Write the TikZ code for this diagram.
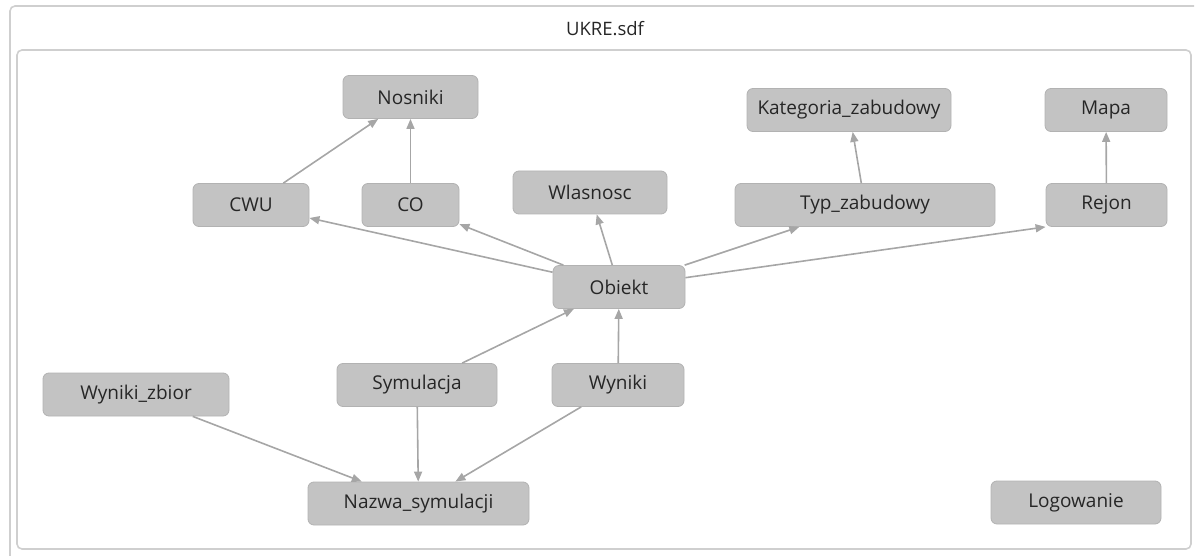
\documentclass[tikz,border=0pt]{standalone}
\usepackage{fontspec}
\setmainfont{Open Sans}
\usetikzlibrary{arrows.meta}
\definecolor{boxfill}{HTML}{C3C3C3}
\definecolor{boxline}{HTML}{B2B2B2}
\definecolor{linkgray}{HTML}{A6A6A6}
\definecolor{framegray}{HTML}{CFCFCF}
\definecolor{textgray}{HTML}{262626}
\tikzset{>={Triangle[length=10pt,width=8pt]},
         entity/.style={draw=boxline, fill=boxfill, line width=0.8pt,
           rounded corners=6pt, minimum height=43pt, inner sep=0pt,
           text=textgray, font=\fontsize{19}{22}\selectfont},
         link/.style={->, draw=linkgray, line width=1.6pt},
         frame/.style={draw=framegray, line width=1.6pt, rounded corners=5pt}}

\begin{document}
\begin{tikzpicture}[x=1pt,y=-1pt]
  \useasboundingbox (0,0) rectangle (1195,556);
  % frames
  \draw[frame] (10,570) -- (10,6) -- (1194,6);
  \draw[frame] (17,50) rectangle (1191,549);
  \node[text=textgray, font=\fontsize{18.5}{22}\selectfont] (title) at (605,29) {UKRE.sdf};

  % tables
  \node[entity, minimum width=135pt] (nosniki)   at (410.5,97)  {Nosniki};
  \node[entity, minimum width=116pt] (cwu)       at (251,205)   {CWU};
  \node[entity, minimum width=97pt]  (co)        at (410.5,205) {CO};
  \node[entity, minimum width=154pt] (wlasnosc)  at (590,192.5) {Wlasnosc};
  \node[entity, minimum width=204pt] (kategoria) at (849,110)   {Kategoria\_zabudowy};
  \node[entity, minimum width=122pt] (mapa)      at (1106,110)  {Mapa};
  \node[entity, minimum width=260pt] (typ)       at (865,205)   {Typ\_zabudowy};
  \node[entity, minimum width=121pt] (rejon)     at (1106.5,205) {Rejon};
  \node[entity, minimum width=132pt] (obiekt)    at (619,287)   {Obiekt};
  \node[entity, minimum width=160pt] (symulacja) at (417,385)   {Symulacja};
  \node[entity, minimum width=132pt] (wyniki)    at (618,385)   {Wyniki};
  \node[entity, minimum width=186pt] (zbior)     at (136,394.5) {Wyniki\_zbior};
  \node[entity, minimum width=221pt] (nazwa)     at (418.5,503.5) {Nazwa\_symulacji};
  \node[entity, minimum width=170pt] (logowanie) at (1076,502.5) {Logowanie};

  % relations
  \draw[link] (cwu) -- (nosniki);
  \draw[link] (co) -- (nosniki);
  \draw[link] (obiekt) -- (cwu);
  \draw[link] (obiekt) -- (co);
  \draw[link] (obiekt) -- (wlasnosc);
  \draw[link] (obiekt) -- (typ);
  \draw[link] (obiekt) -- (rejon.south west);
  \draw[link] (typ) -- (kategoria);
  \draw[link] (rejon) -- (mapa);
  \draw[link] (symulacja) -- (obiekt);
  \draw[link] (wyniki) -- (obiekt);
  \draw[link] (zbior) -- (nazwa);
  \draw[link] (symulacja) -- (nazwa);
  \draw[link] (wyniki) -- (nazwa);
\end{tikzpicture}
\end{document}
